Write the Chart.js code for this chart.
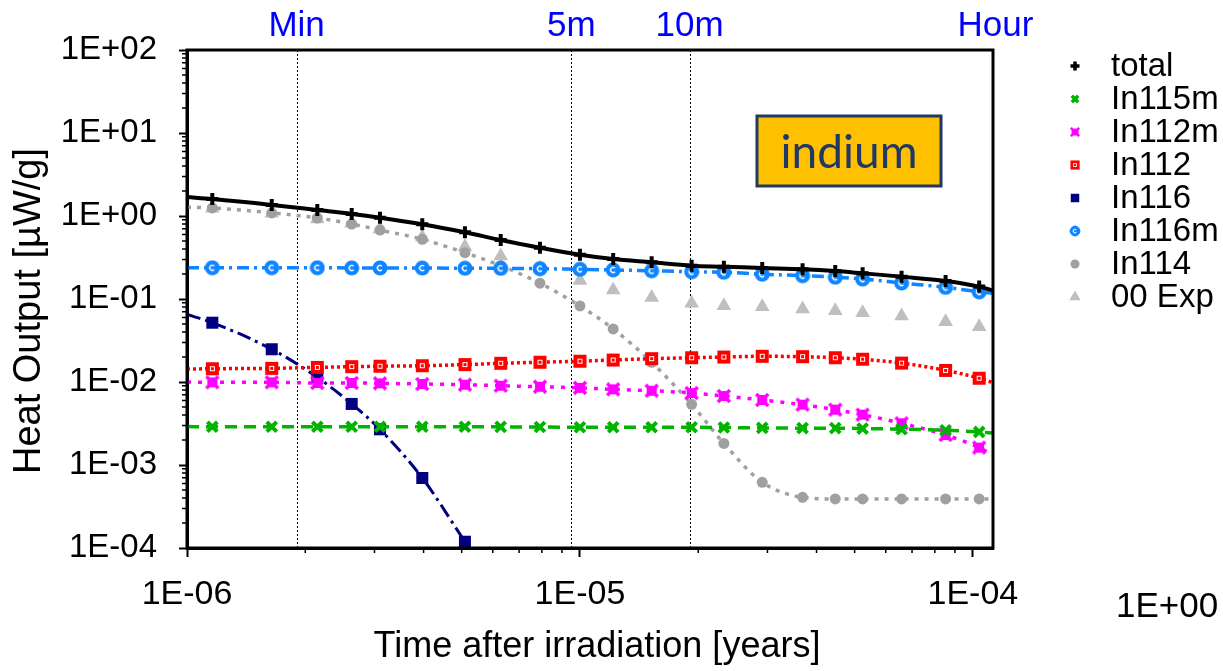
<!DOCTYPE html>
<html>
<head>
<meta charset="utf-8">
<script src="https://cdn.jsdelivr.net/npm/chart.js@4.4.1/dist/chart.umd.min.js"></script>
<style>
    html, body { margin: 0; padding: 0; background: #fff; }
    #wrap { width: 1223px; height: 671px; }
</style>
</head>
<body>
<div id="wrap"><canvas id="grafico" width="1223" height="671"></canvas></div>
<script>
'use strict';

// tiempos de los marcadores [años]
const times = [
    1.16e-6, 1.643e-6, 2.146e-6, 2.625e-6, 3.098e-6, 3.970e-6, 5.097e-6,
    6.285e-6, 7.910e-6, 1.0e-5, 1.215e-5, 1.522e-5, 1.924e-5, 2.324e-5,
    2.910e-5, 3.686e-5, 4.464e-5, 5.240e-5, 6.584e-5, 8.521e-5, 1.0375e-4,
];
const timesIn116 = times.slice(0, 7);
const xEdge = [1e-6, 1.125e-4];

const total = [1.60, 1.36, 1.18, 1.06, 0.955, 0.795, 0.636, 0.514, 0.415, 0.342, 0.303,
    0.277, 0.252, 0.245, 0.236, 0.228, 0.217, 0.204, 0.186, 0.165, 0.141];
const totalEdge = [1.69, 0.127];

const in115m = [2.89e-3, 2.89e-3, 2.89e-3, 2.89e-3, 2.89e-3, 2.89e-3, 2.89e-3, 2.88e-3,
    2.87e-3, 2.85e-3, 2.85e-3, 2.85e-3, 2.85e-3, 2.83e-3, 2.80e-3, 2.78e-3, 2.78e-3,
    2.75e-3, 2.70e-3, 2.62e-3, 2.50e-3];
const in115mEdge = [2.9e-3, 2.43e-3];

const in112m = [9.91e-3, 9.91e-3, 9.73e-3, 9.73e-3, 9.64e-3, 9.46e-3, 9.28e-3, 9.02e-3,
    8.77e-3, 8.50e-3, 8.16e-3, 7.85e-3, 7.37e-3, 6.78e-3, 6.07e-3, 5.33e-3, 4.64e-3,
    4.04e-3, 3.18e-3, 2.30e-3, 1.62e-3];
const in112mEdge = [1.0e-2, 1.32e-3];

const in112 = [1.445e-2, 1.46e-2, 1.50e-2, 1.53e-2, 1.55e-2, 1.57e-2, 1.62e-2, 1.68e-2,
    1.73e-2, 1.78e-2, 1.84e-2, 1.91e-2, 1.96e-2, 2.00e-2, 2.04e-2, 2.02e-2, 1.96e-2,
    1.88e-2, 1.69e-2, 1.38e-2, 1.11e-2];
const in112Edge = [1.43e-2, 9.8e-3];

const in116 = [5.18e-2, 2.48e-2, 1.14e-2, 5.44e-3, 2.69e-3, 6.97e-4, 1.19e-4];
const in116Edge = [6.5e-2, null];

const in116m = [0.238, 0.238, 0.238, 0.237, 0.237, 0.236, 0.235, 0.234, 0.232, 0.228,
    0.224, 0.219, 0.213, 0.210, 0.199, 0.191, 0.183, 0.174, 0.156, 0.138, 0.122];
const in116mEdge = [0.238, 0.117];

const in114 = [1.25, 1.09, 0.946, 0.801, 0.678, 0.524, 0.361, 0.252, 0.155, 8.24e-2,
    4.36e-2, 1.73e-2, 5.38e-3, 1.82e-3, 6.19e-4, 4.08e-4, 3.9e-4, 3.9e-4, 3.9e-4,
    3.9e-4, 3.9e-4];
const in114Edge = [1.28, 3.9e-4];

const exp00 = [1.24, 1.08, 0.921, 0.817, 0.697, 0.553, 0.426, 0.330, 0.234, 0.167,
    0.128, 0.104, 8.87e-2, 8.30e-2, 8.07e-2, 7.58e-2, 7.23e-2, 6.84e-2, 6.24e-2,
    5.33e-2, 4.64e-2];

const ticksX = [1e-6, 1e-5, 1e-4];
const ticksY = [1e-4, 1e-3, 1e-2, 1e-1, 1, 10, 100];
const topLabels = ['Min', '5m', '10m', 'Hour'];
const topTimes = [1.901e-6, 9.506e-6, 1.901e-5, 1.1408e-4];
const markLines = [1.901e-6, 9.506e-6, 1.901e-5];

const FUENTE = "'Liberation Sans', Arial, sans-serif";

const fmtPot = (v) => {
    const e = Math.round(Math.log10(v));
    return `1E${e < 0 ? '-' : '+'}${String(Math.abs(e)).padStart(2, '0')}`;
};

const serie = (xs, ys, edge) => {
    const pts = xs.map((x, i) => ({ x, y: ys[i] }));
    if (edge && edge[0] != null) pts.unshift({ x: xEdge[0], y: edge[0], edge: true });
    if (edge && edge[1] != null) pts.push({ x: xEdge[1], y: edge[1], edge: true });
    return pts;
};

const radio = (n) => (c) => (c.raw && c.raw.edge ? 0 : n);

const marcador = (size, draw) => {
    const c = document.createElement('canvas');
    c.width = size;
    c.height = size;
    draw(c.getContext('2d'), size);
    return c;
};

const mkIn112 = marcador(15, (ctx) => {
    ctx.fillStyle = '#ff0000';
    ctx.fillRect(1, 1, 13, 13);
    ctx.strokeStyle = '#ffffff';
    ctx.lineWidth = 1;
    ctx.strokeRect(5.5, 5.5, 4, 4);
});

const mkIn116m = marcador(16, (ctx) => {
    ctx.fillStyle = '#0f85ff';
    ctx.beginPath();
    ctx.arc(8, 8, 7.5, 0, Math.PI * 2);
    ctx.fill();
    ctx.strokeStyle = '#ffffff';
    ctx.lineWidth = 1.4;
    ctx.beginPath();
    ctx.arc(8, 8, 2.6, Math.PI * 0.25, Math.PI * 1.75);
    ctx.stroke();
});

const mkIn112m = marcador(16, (ctx) => {
    ctx.fillStyle = '#ff00ff';
    ctx.fillRect(3, 3, 10, 10);
    ctx.strokeStyle = '#ff00ff';
    ctx.lineWidth = 3.5;
    ctx.beginPath();
    ctx.moveTo(2, 2); ctx.lineTo(14, 14);
    ctx.moveTo(14, 2); ctx.lineTo(2, 14);
    ctx.stroke();
});

const datasets = [
    {
        label: 'total', data: serie(times, total, totalEdge),
        borderColor: '#000000', borderWidth: 4,
        pointStyle: 'cross', pointRadius: radio(6), pointBorderWidth: 4,
        pointBorderColor: '#000000', pointBackgroundColor: '#000000',
    },
    {
        label: 'In115m', data: serie(times, in115m, in115mEdge),
        borderColor: '#00b400', borderWidth: 3.5, borderDash: [12, 7],
        pointStyle: 'crossRot', pointRadius: radio(7), pointBorderWidth: 4,
        pointBorderColor: '#00b400', pointBackgroundColor: '#00b400',
    },
    {
        label: 'In112m', data: serie(times, in112m, in112mEdge),
        borderColor: '#ff00ff', borderWidth: 3.5, borderDash: [4, 7],
        pointStyle: mkIn112m, pointRadius: radio(7),
    },
    {
        label: 'In112', data: serie(times, in112, in112Edge),
        borderColor: '#ff0000', borderWidth: 3.5, borderDash: [3, 3],
        pointStyle: mkIn112, pointRadius: radio(7),
    },
    {
        label: 'In116', data: serie(timesIn116, in116, in116Edge),
        borderColor: '#000080', borderWidth: 3, borderDash: [14, 5, 3, 5],
        pointStyle: 'rect', pointRadius: radio(8.5), pointBorderWidth: 0,
        pointBorderColor: '#000080', pointBackgroundColor: '#000080',
    },
    {
        label: 'In116m', data: serie(times, in116m, in116mEdge),
        borderColor: '#0f85ff', borderWidth: 3.5, borderDash: [12, 5, 3, 5],
        pointStyle: mkIn116m, pointRadius: radio(7),
    },
    {
        label: 'In114', data: serie(times, in114, in114Edge),
        borderColor: '#a0a0a0', borderWidth: 3.5, borderDash: [4, 6],
        pointStyle: 'circle', pointRadius: radio(5.5), pointBorderWidth: 0,
        pointBorderColor: '#a0a0a0', pointBackgroundColor: '#a0a0a0',
    },
    {
        label: '00 Exp', data: serie(times, exp00, null), showLine: false,
        pointStyle: 'triangle', pointRadius: 8.5, pointBorderWidth: 0,
        pointBorderColor: '#bfbfbf', pointBackgroundColor: '#bfbfbf',
    },
];

const legendRadius = [4.5, 4.5, 0, 0, 6, 0, 4.5, 6.5];

const dibujarMarcador = (ctx, ds, r, x, y) => {
    const st = ds.pointStyle;
    if (st instanceof HTMLCanvasElement) {
        const w = st.width * 0.7;
        const h = st.height * 0.7;
        ctx.drawImage(st, x - w / 2, y - h / 2, w, h);
        return;
    }
    ctx.fillStyle = ds.pointBackgroundColor;
    ctx.strokeStyle = ds.pointBorderColor;
    ctx.lineWidth = Math.min(ds.pointBorderWidth, 3.5);
    Chart.helpers.drawPoint(ctx, {
        pointStyle: st, radius: r, rotation: 0, borderWidth: ds.pointBorderWidth,
    }, x, y);
};

const decoracion = {
    id: 'decoracion',
    beforeDatasetsDraw(chart) {
        const { ctx, chartArea: a, scales: { x } } = chart;
        ctx.save();
        ctx.strokeStyle = '#000';
        ctx.lineWidth = 1;
        ctx.setLineDash([2, 2]);
        markLines.forEach((t) => {
            const px = Math.round(x.getPixelForValue(t)) + 0.5;
            ctx.beginPath();
            ctx.moveTo(px, a.top);
            ctx.lineTo(px, a.bottom);
            ctx.stroke();
        });
        ctx.restore();
    },
    afterDatasetsDraw(chart) {
        const { ctx, chartArea: a, scales: { x, y } } = chart;
        ctx.save();

        // marco
        ctx.strokeStyle = '#000';
        ctx.lineWidth = 3;
        ctx.strokeRect(a.left, a.top, a.right - a.left, a.bottom - a.top);

        // ticks menores
        ctx.lineWidth = 1.5;
        ctx.beginPath();
        for (let d = -6; d <= -4; d++) {
            for (let m = 2; m <= 9; m++) {
                const v = m * Math.pow(10, d);
                if (v > x.max) continue;
                const px = x.getPixelForValue(v);
                ctx.moveTo(px, a.bottom);
                ctx.lineTo(px, a.bottom + 5);
            }
        }
        for (let d = -4; d <= 1; d++) {
            for (let m = 2; m <= 9; m++) {
                const py = y.getPixelForValue(m * Math.pow(10, d));
                ctx.moveTo(a.left, py);
                ctx.lineTo(a.left - 5, py);
            }
        }
        ctx.stroke();

        // etiquetas de tiempo arriba
        ctx.fillStyle = '#0000ff';
        ctx.font = `35px ${FUENTE}`;
        ctx.textAlign = 'center';
        ctx.textBaseline = 'alphabetic';
        topLabels.forEach((t, i) => ctx.fillText(t, x.getPixelForValue(topTimes[i]), 36));

        // recuadro indium
        ctx.fillStyle = '#ffc000';
        ctx.fillRect(757, 116, 184, 70);
        ctx.strokeStyle = '#1f3864';
        ctx.lineWidth = 3;
        ctx.strokeRect(757, 116, 184, 70);
        ctx.fillStyle = '#1f3864';
        ctx.font = `46px Lato, 'Open Sans', sans-serif`;
        ctx.textBaseline = 'middle';
        ctx.fillText('indium', 849, 153);

        // títulos de ejes
        ctx.fillStyle = '#000';
        ctx.font = `36px ${FUENTE}`;
        ctx.fillText('Time after irradiation [years]', 597, 647);
        ctx.save();
        ctx.translate(30, 311);
        ctx.rotate(-Math.PI / 2);
        ctx.font = `38px ${FUENTE}`;
        ctx.fillText('Heat Output [µW/g]', 0, 0);
        ctx.restore();

        // leyenda
        ctx.font = `33px ${FUENTE}`;
        ctx.textAlign = 'left';
        chart.data.datasets.forEach((ds, i) => {
            const ly = 66 + i * 33;
            dibujarMarcador(ctx, ds, legendRadius[i], 1075, ly);
            ctx.fillStyle = '#000';
            ctx.fillText(ds.label, 1111, ly + 1);
        });

        ctx.font = `35px ${FUENTE}`;
        ctx.textBaseline = 'alphabetic';
        ctx.fillText('1E+00', 1116, 617);
        ctx.restore();
    },
};

Chart.defaults.font.family = FUENTE;

new Chart(document.getElementById('grafico'), {
    type: 'line',
    data: { datasets },
    options: {
        responsive: false,
        animation: false,
        events: [],
        layout: { padding: { top: 50, right: 230, left: 0, bottom: 0 } },
        elements: { line: { cubicInterpolationMode: 'monotone', fill: false } },
        plugins: { legend: { display: false }, tooltip: { enabled: false } },
        scales: {
            x: {
                type: 'logarithmic',
                min: xEdge[0],
                max: xEdge[1],
                afterBuildTicks: (s) => { s.ticks = ticksX.map((v) => ({ value: v })); },
                afterFit: (s) => { s.height = 123; },
                ticks: { callback: fmtPot, color: '#000', font: { size: 34 }, padding: 17, maxRotation: 0, autoSkip: false },
                grid: { drawOnChartArea: false, tickLength: 9, tickWidth: 2, tickColor: '#000' },
                border: { color: '#000', width: 3 },
            },
            y: {
                type: 'logarithmic',
                min: ticksY[0],
                max: ticksY[ticksY.length - 1],
                afterBuildTicks: (s) => { s.ticks = ticksY.map((v) => ({ value: v })); },
                afterFit: (s) => { s.width = 187; },
                ticks: { callback: fmtPot, color: '#000', font: { size: 33 }, padding: 22, autoSkip: false },
                grid: { drawOnChartArea: false, tickLength: 8, tickWidth: 2, tickColor: '#000' },
                border: { color: '#000', width: 3 },
            },
        },
    },
    plugins: [decoracion],
});
</script>
</body>
</html>
